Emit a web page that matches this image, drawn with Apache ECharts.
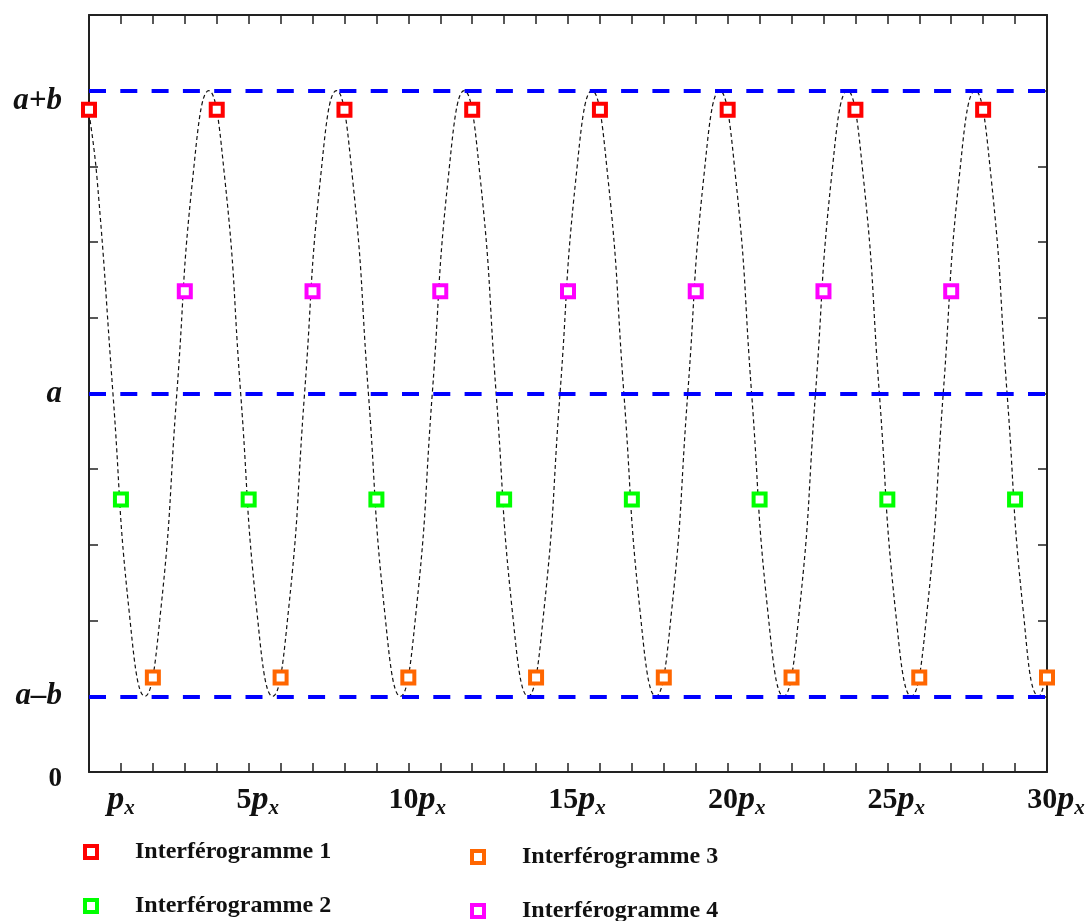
<!DOCTYPE html>
<html>
<head>
<meta charset="utf-8">
<script src="https://cdn.jsdelivr.net/npm/echarts@6/dist/echarts.min.js"></script>
<style>
  html, body { margin: 0; padding: 0; background: #fff; }
  #chart { width: 1089px; height: 921px; }
</style>
</head>
<body>
<div id="chart"></div>
<script>
// niveaux horizontaux : a-b, a, a+b (a = 5, b = 4 sur l'axe)
const levels = [1, 5, 9];

// étiquettes des axes
const xLabelValues = [1, 5, 10, 15, 20, 25, 30];
const yLabels = { 0: '0', 1: 'a–b', 5: 'a', 9: 'a+b' };

// points des interférogrammes
const interf1 = [[0, 8.75], [4, 8.75], [8, 8.75], [12, 8.75], [16, 8.75], [20, 8.75], [24, 8.75], [28, 8.75]];
const interf2 = [[1, 3.6], [5, 3.6], [9, 3.6], [13, 3.6], [17, 3.6], [21, 3.6], [25, 3.6], [29, 3.6]];
const interf3 = [[2, 1.25], [6, 1.25], [10, 1.25], [14, 1.25], [18, 1.25], [22, 1.25], [26, 1.25], [30, 1.25]];
const interf4 = [[3, 6.35], [7, 6.35], [11, 6.35], [15, 6.35], [19, 6.35], [23, 6.35], [27, 6.35]];

// courbe en pointillés
const curve = [
  [0, 8.7], [0.25, 7.85], [0.75, 5], [1.25, 2.15], [1.75, 1], [2.25, 2.15], [2.75, 5], [3.25, 7.85], [3.75, 9],
  [4.25, 7.85], [4.75, 5], [5.25, 2.15], [5.75, 1], [6.25, 2.15], [6.75, 5], [7.25, 7.85], [7.75, 9],
  [8.25, 7.85], [8.75, 5], [9.25, 2.15], [9.75, 1], [10.25, 2.15], [10.75, 5], [11.25, 7.85], [11.75, 9],
  [12.25, 7.85], [12.75, 5], [13.25, 2.15], [13.75, 1], [14.25, 2.15], [14.75, 5], [15.25, 7.85], [15.75, 9],
  [16.25, 7.85], [16.75, 5], [17.25, 2.15], [17.75, 1], [18.25, 2.15], [18.75, 5], [19.25, 7.85], [19.75, 9],
  [20.25, 7.85], [20.75, 5], [21.25, 2.15], [21.75, 1], [22.25, 2.15], [22.75, 5], [23.25, 7.85], [23.75, 9],
  [24.25, 7.85], [24.75, 5], [25.25, 2.15], [25.75, 1], [26.25, 2.15], [26.75, 5], [27.25, 7.85], [27.75, 9],
  [28.25, 7.85], [28.75, 5], [29.25, 2.15], [29.75, 1], [30, 1.3]
];

const names = ['Interférogramme 1', 'Interférogramme 2', 'Interférogramme 3', 'Interférogramme 4'];
const colors = ['#ff0000', '#00ff00', '#ff6600', '#ff00ff'];

const chart = echarts.init(document.getElementById('chart'));

const axisColor = '#222';
const serif = '"Liberation Serif", "DejaVu Serif", serif';

function markerSeries(i, data) {
  return {
    name: names[i],
    type: 'scatter',
    data: data,
    symbol: 'rect',
    symbolSize: 12,
    z: 5,
    itemStyle: { color: '#fff', borderColor: colors[i], borderWidth: 4, opacity: 1 }
  };
}

// une légende par entrée, placée à la main (2 colonnes de 2)
const legendPos = [[83, 840], [83, 894], [470, 845], [470, 899]];
function legendBox(i) {
  return {
    data: [{ name: names[i], itemStyle: { color: '#fff', borderColor: colors[i], borderWidth: 4 } }],
    left: legendPos[i][0], top: legendPos[i][1], padding: 0,
    icon: 'rect', itemWidth: 12, itemHeight: 12,
    selectedMode: false,
    textStyle: {
      fontFamily: serif, fontWeight: 'bold', fontSize: 24, color: '#111',
      padding: [0, 0, 0, 33]
    }
  };
}

// cadre : axes avec graduations vers l'intérieur
function frameAxis(extra) {
  return Object.assign({
    type: 'value', interval: 1,
    axisLine: { show: true, onZero: false, lineStyle: { color: axisColor, width: 2 } },
    axisTick: { show: true, inside: true, length: 9, lineStyle: { color: axisColor, width: 1.5 } },
    splitLine: { show: false },
    axisLabel: { show: false }
  }, extra);
}

const option = {
  animation: false,
  backgroundColor: '#fff',
  grid: { left: 89, right: 42, top: 15, bottom: 149 },
  legend: [legendBox(0), legendBox(1), legendBox(2), legendBox(3)],
  xAxis: [
    frameAxis({
      min: 0, max: 30, position: 'bottom',
      axisLabel: {
        show: true,
        margin: 10,
        formatter: function (v) {
          if (xLabelValues.indexOf(v) < 0) return '';
          return (v === 1 ? '' : '{n|' + v + '}') + '{p|p}{s|x}';
        },
        rich: {
          n: { fontFamily: serif, fontWeight: 'bold', fontSize: 30, color: '#111', padding: [0, 0, 0, 18] },
          p: { fontFamily: serif, fontWeight: 'bold', fontStyle: 'italic', fontSize: 34, color: '#111' },
          s: { fontFamily: serif, fontStyle: 'italic', fontWeight: 'bold', fontSize: 21, color: '#111', padding: [16, 0, 0, 0] }
        }
      }
    }),
    frameAxis({ min: 0, max: 30, position: 'top' })
  ],
  yAxis: [
    frameAxis({
      min: 0, max: 10, position: 'left',
      axisLabel: {
        show: true,
        margin: 27,
        formatter: function (v) {
          if (!(v in yLabels)) return '';
          if (v === 0) return '{n|0}';
          if (v === 9) return '{t|' + yLabels[v] + '}';
          return '{i|' + yLabels[v] + '}';
        },
        rich: {
          n: { fontFamily: serif, fontWeight: 'bold', fontSize: 27, color: '#111', padding: [14, 0, 0, 0] },
          i: { fontFamily: serif, fontWeight: 'bold', fontStyle: 'italic', fontSize: 31, color: '#111' },
          t: { fontFamily: serif, fontWeight: 'bold', fontStyle: 'italic', fontSize: 31, color: '#111', padding: [20, 0, 0, 0] }
        }
      }
    }),
    frameAxis({ min: 0, max: 10, position: 'right' })
  ],
  series: [
    {
      name: 'courbe',
      type: 'line',
      data: curve,
      smooth: 0.5,
      symbol: 'none',
      z: 2,
      lineStyle: { color: '#111', width: 1.2, type: [4, 3] },
      markLine: {
        silent: true,
        symbol: ['none', 'none'],
        label: { show: false },
        lineStyle: { color: '#0000ff', width: 4, type: [17, 14.3] },
        data: levels.map(function (l) { return { yAxis: l }; })
      }
    },
    markerSeries(0, interf1),
    markerSeries(1, interf2),
    markerSeries(2, interf3),
    markerSeries(3, interf4)
  ]
};

chart.setOption(option);
</script>
</body>
</html>
